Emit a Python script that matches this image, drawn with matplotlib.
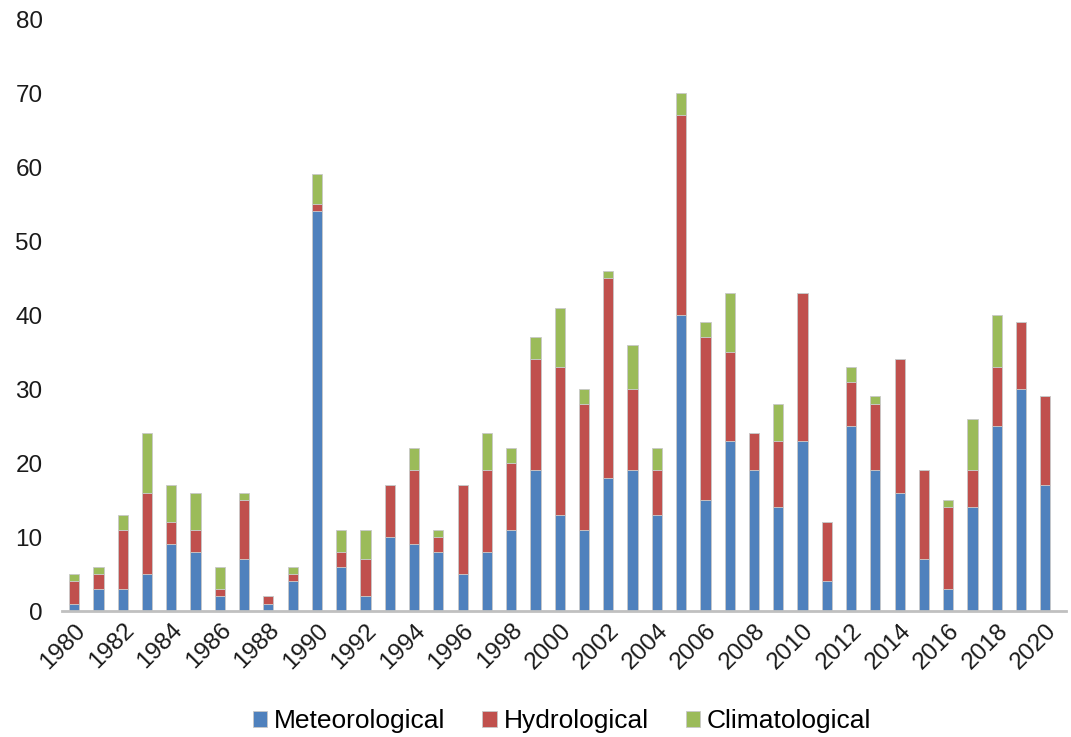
import numpy as np
import matplotlib
matplotlib.use("Agg")
import matplotlib.pyplot as plt

plt.rcParams['font.family'] = ['Liberation Sans', 'DejaVu Sans']

years = list(range(1980, 2021))
meteorological = [1, 3, 3, 5, 9, 8, 2, 7, 1, 4, 54, 6, 2, 10, 9, 8, 5, 8, 11, 19, 13,
                  11, 18, 19, 13, 40, 15, 23, 19, 14, 23, 4, 25, 19, 16, 7, 3, 14, 25, 30, 17]
hydrological = [3, 2, 8, 11, 3, 3, 1, 8, 1, 1, 1, 2, 5, 7, 10, 2, 12, 11, 9, 15, 20,
                17, 27, 11, 6, 27, 22, 12, 5, 9, 20, 8, 6, 9, 18, 12, 11, 5, 8, 9, 12]
climatological = [1, 1, 2, 8, 5, 5, 3, 1, 0, 1, 4, 3, 4, 0, 3, 1, 0, 5, 2, 3, 8,
                  2, 1, 6, 3, 3, 2, 8, 0, 5, 0, 0, 2, 1, 0, 0, 1, 7, 7, 0, 0]

colors = ['#4F81BD', '#C0504D', '#9BBB59']
labels = ['Meteorological', 'Hydrological', 'Climatological']

fig = plt.figure(figsize=(10.71, 7.37), dpi=100)
ax = fig.add_axes([62 / 1071, 1 - 611 / 737, (1066 - 62) / 1071, (611 - 19) / 737])

x = np.arange(len(years))
bottom = np.zeros(len(years))
for vals, col, lab in zip([meteorological, hydrological, climatological], colors, labels):
    vals = np.array(vals)
    ax.bar(x, vals, width=0.42, bottom=bottom, color=col, label=lab,
           edgecolor='#c8c8c8', linewidth=0.6)
    bottom += vals

ax.set_ylim(0, 80)
ax.set_xlim(-0.5, (1066 - 62) / 24.28 - 0.5)
ax.set_yticks(range(0, 81, 10))
ax.set_xticks(x[::2])
ax.set_xticklabels([str(y) for y in years[::2]], rotation=45, ha='right',
                   rotation_mode='anchor')
ax.tick_params(axis='both', length=0, labelsize=17.5, colors='#1a1a1a')
ax.tick_params(axis='y', pad=14)
ax.tick_params(axis='x', pad=6)

for s in ['top', 'right', 'left']:
    ax.spines[s].set_visible(False)
ax.spines['bottom'].set_color('#c0c0c0')
ax.spines['bottom'].set_linewidth(2)

fig.legend(loc='center', bbox_to_anchor=(562 / 1071, 1 - 721 / 737), ncol=3,
           frameon=False, fontsize=19, handlelength=0.55, handleheight=0.55,
           handletextpad=0.25, columnspacing=1.4)

fig.savefig('out.png', dpi=100)
